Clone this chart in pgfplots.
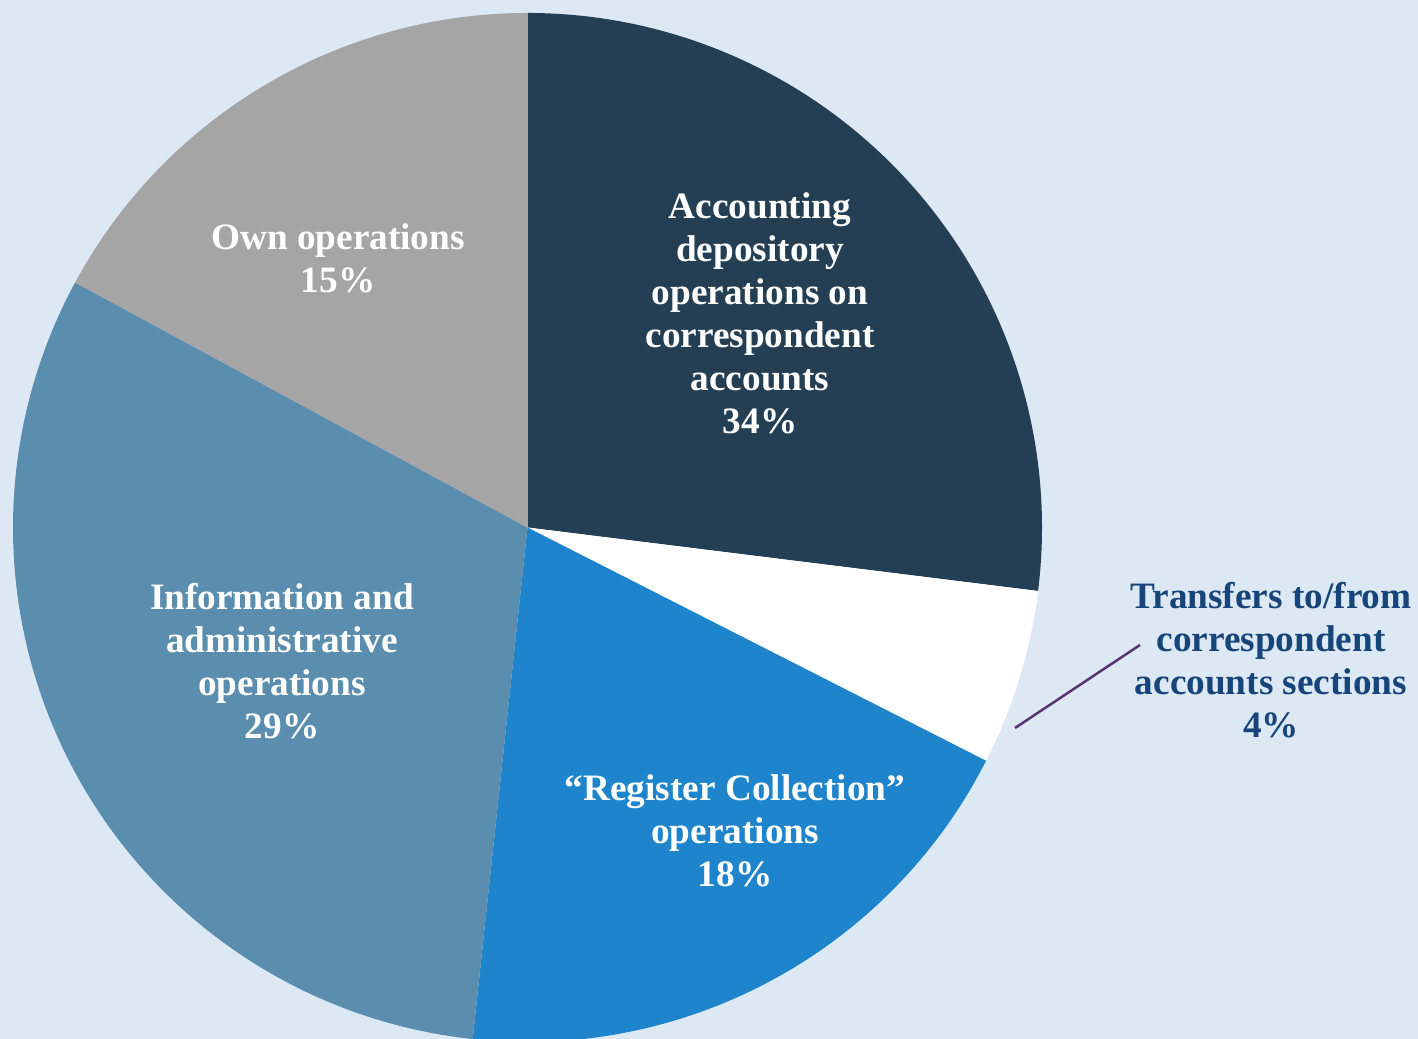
\documentclass[border=0pt]{standalone}
\usepackage{pgfplots}
\pgfplotsset{compat=1.18}
\usepackage{pgfplotstable}
\usepackage{fontspec}
\setmainfont{Liberation Serif}
\definecolor{bg}{HTML}{DCE9F4}
\definecolor{cnavy}{HTML}{243F53}
\definecolor{cblue}{HTML}{1E84CB}
\definecolor{csteel}{HTML}{5B8DAE}
\definecolor{cgray}{HTML}{A5A5A5}
\definecolor{ctext}{HTML}{17457A}
\definecolor{cline}{HTML}{5A3372}

% shares as drawn (percent of the full circle), clockwise from 12 o'clock
\pgfplotstableread{
share
26.97
5.52
19.21
31.20
17.10
}\piedata

\begin{document}
\begin{tikzpicture}
\pgfplotstablegetelem{0}{share}\of\piedata \let\vA\pgfplotsretval
\pgfplotstablegetelem{1}{share}\of\piedata \let\vB\pgfplotsretval
\pgfplotstablegetelem{2}{share}\of\piedata \let\vC\pgfplotsretval
\pgfplotstablegetelem{3}{share}\of\piedata \let\vD\pgfplotsretval
\pgfplotstablegetelem{4}{share}\of\piedata \let\vE\pgfplotsretval
\pgfmathsetmacro\aA{90}
\pgfmathsetmacro\aB{\aA-3.6*\vA}
\pgfmathsetmacro\aC{\aB-3.6*\vB}
\pgfmathsetmacro\aD{\aC-3.6*\vC}
\pgfmathsetmacro\aE{\aD-3.6*\vD}
\pgfmathsetmacro\aF{\aE-3.6*\vE}
\def\R{257.25bp}
\begin{axis}[x=0.5bp, y=0.5bp, xmin=0, xmax=1418, ymin=0, ymax=1039,
  hide axis, clip=true]
\fill[bg] (axis cs:0,0) rectangle (axis cs:1418,1039);
\fill[cnavy]  (axis cs:527.5,511.5) -- ++(\aA:\R) arc[start angle=\aA, end angle=\aB, radius=\R] -- cycle;
\fill[white]  (axis cs:527.5,511.5) -- ++(\aB:\R) arc[start angle=\aB, end angle=\aC, radius=\R] -- cycle;
\fill[cblue]  (axis cs:527.5,511.5) -- ++(\aC:\R) arc[start angle=\aC, end angle=\aD, radius=\R] -- cycle;
\fill[csteel] (axis cs:527.5,511.5) -- ++(\aD:\R) arc[start angle=\aD, end angle=\aE, radius=\R] -- cycle;
\fill[cgray]  (axis cs:527.5,511.5) -- ++(\aE:\R) arc[start angle=\aE, end angle=\aF, radius=\R] -- cycle;
\draw[cline, line width=1.25bp] (axis cs:1015,311) -- (axis cs:1140,394);
\tikzset{lbl/.style={font=\fontsize{18.7}{21.6}\selectfont\bfseries, align=center, inner sep=0pt}}
\node[lbl, text=white] at (axis cs:760,726) {Accounting\\depository\\operations on\\correspondent\\accounts\\34\%};
\node[lbl, text=ctext] at (axis cs:1271,379) {Transfers to/from\\correspondent\\accounts sections\\4\%};
\node[lbl, text=white] at (axis cs:282,378) {Information and\\administrative\\operations\\29\%};
\node[lbl, text=white] at (axis cs:735,208) {“Register Collection”\\operations\\18\%};
\node[lbl, text=white] at (axis cs:338,780.5) {Own operations\\15\%};
\end{axis}
\pgfresetboundingbox
\path (current axis.south west) rectangle (current axis.north east);
\end{tikzpicture}
\end{document}
